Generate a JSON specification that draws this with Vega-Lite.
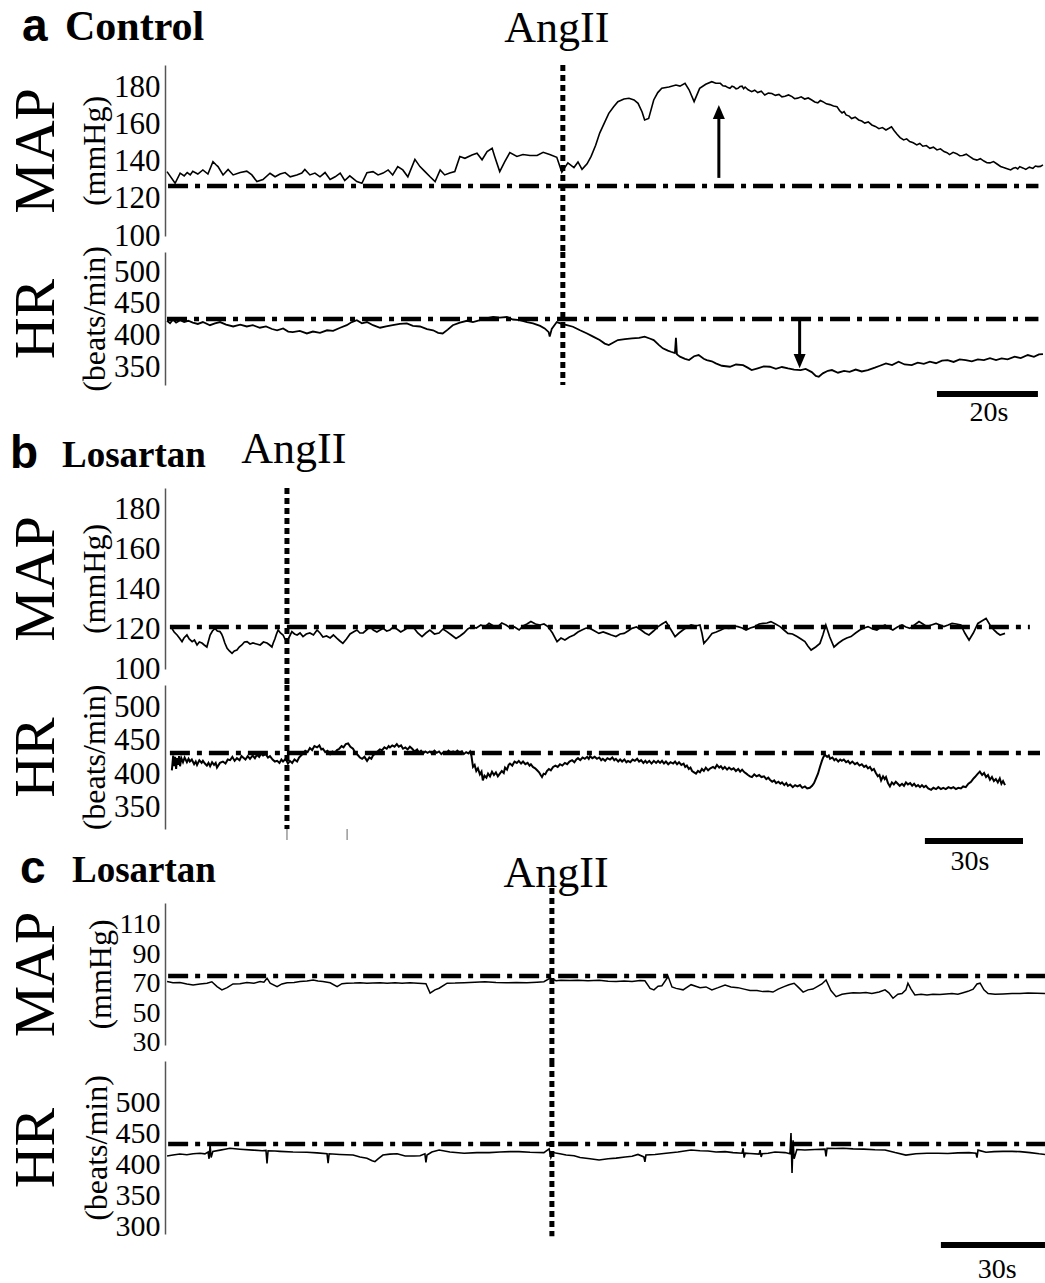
{
"$schema": "https://vega.github.io/schema/vega-lite/v6.json",
"background": "white",
"padding": {"left": 7, "top": 0, "right": 0, "bottom": 2},
"config": {"view": {"stroke": null}, "axis": {"labelFont": "Liberation Serif", "titleFont": "Liberation Serif", "labelColor": "black", "titleColor": "black", "titleFontWeight": "normal", "grid": false}},
"spacing": 16,
"bounds": "flush",
"datasets": {
"aMAP": [{"t":0.4,"v":134.8},{"t":2.0,"v":128.5},{"t":3.0,"v":134},{"t":3.8,"v":132.5},{"t":4.4,"v":134.3},{"t":5.0,"v":133},{"t":5.5,"v":135},{"t":6.5,"v":133.5},{"t":7.5,"v":135.7},{"t":8.5,"v":133.5},{"t":9.5,"v":140.2},{"t":10.1,"v":138.5},{"t":10.5,"v":137.5},{"t":11.5,"v":133},{"t":12.5,"v":136},{"t":13.5,"v":133},{"t":14.9,"v":134.3},{"t":16.2,"v":135},{"t":17.2,"v":133},{"t":18.2,"v":129.4},{"t":19.4,"v":130.5},{"t":20.8,"v":133.9},{"t":21.8,"v":132},{"t":22.8,"v":133.5},{"t":23.8,"v":134.3},{"t":24.8,"v":132},{"t":26.1,"v":133},{"t":27.1,"v":134},{"t":27.7,"v":136},{"t":28.7,"v":133},{"t":29.7,"v":134},{"t":30.7,"v":132},{"t":31.7,"v":134.3},{"t":32.7,"v":130.6},{"t":33.7,"v":132},{"t":34.7,"v":134},{"t":35.6,"v":130},{"t":36.6,"v":132.5},{"t":38.0,"v":129.4},{"t":39.0,"v":128.5},{"t":40.0,"v":134.2},{"t":41.2,"v":134.8},{"t":42.2,"v":133},{"t":43.2,"v":134},{"t":44.2,"v":135.7},{"t":45.1,"v":133},{"t":46.1,"v":137.5},{"t":47.1,"v":135.7},{"t":48.1,"v":132},{"t":49.5,"v":141.4},{"t":50.5,"v":137.5},{"t":51.5,"v":134.8},{"t":52.5,"v":132},{"t":53.5,"v":129.4},{"t":54.5,"v":135.7},{"t":55.4,"v":133},{"t":56.4,"v":134},{"t":57.4,"v":134.8},{"t":58.4,"v":142.9},{"t":59.4,"v":142},{"t":60.8,"v":143.8},{"t":61.8,"v":144.7},{"t":62.8,"v":141.2},{"t":63.8,"v":145.6},{"t":64.8,"v":147.4},{"t":65.3,"v":143},{"t":66.3,"v":134.8},{"t":67.3,"v":140.2},{"t":68.3,"v":145.1},{"t":69.7,"v":143},{"t":70.9,"v":144},{"t":72.3,"v":143.5},{"t":73.7,"v":143.5},{"t":74.9,"v":145.2},{"t":76.2,"v":144},{"t":77.6,"v":142.5},{"t":78.6,"v":134.5},{"t":79.8,"v":139.5},{"t":81.0,"v":137},{"t":81.8,"v":140},{"t":82.6,"v":136},{"t":83.6,"v":139},{"t":84.4,"v":143},{"t":85.3,"v":149},{"t":86.1,"v":155.6},{"t":87.1,"v":161.5},{"t":87.9,"v":166.3},{"t":88.9,"v":170},{"t":89.7,"v":172.6},{"t":90.9,"v":174},{"t":91.9,"v":174.4},{"t":92.9,"v":173.5},{"t":93.7,"v":171.7},{"t":94.5,"v":167},{"t":95.0,"v":162.7},{"t":95.8,"v":163.5},{"t":96.8,"v":173.5},{"t":97.6,"v":177.5},{"t":98.4,"v":179.8},{"t":99.8,"v":180.5},{"t":101.2,"v":181.6},{"t":102.0,"v":181},{"t":103.0,"v":182.5},{"t":103.8,"v":179},{"t":104.8,"v":172.6},{"t":105.9,"v":179.8},{"t":107.1,"v":182},{"t":108.3,"v":183.4},{"t":109.1,"v":182.5},{"t":110.0,"v":182.5},{"t":110.5,"v":181.2},{"t":111.0,"v":181},{"t":111.5,"v":180.2},{"t":111.9,"v":179.8},{"t":112.3,"v":181},{"t":112.7,"v":180.5},{"t":113.1,"v":179.5},{"t":113.5,"v":179.8},{"t":113.9,"v":180.8},{"t":114.3,"v":181},{"t":114.6,"v":179.6},{"t":114.9,"v":180.5},{"t":115.5,"v":179},{"t":116.2,"v":178},{"t":116.8,"v":178.8},{"t":117.4,"v":177.5},{"t":118.1,"v":178.2},{"t":118.8,"v":176.2},{"t":119.5,"v":177.2},{"t":120.2,"v":177},{"t":120.9,"v":176},{"t":121.6,"v":176.5},{"t":122.2,"v":175.2},{"t":122.8,"v":175.5},{"t":123.5,"v":176.2},{"t":124.2,"v":175.3},{"t":124.7,"v":174.2},{"t":125.3,"v":174.5},{"t":126.0,"v":175.2},{"t":126.7,"v":174},{"t":127.4,"v":174.6},{"t":128.1,"v":173.5},{"t":128.7,"v":172.4},{"t":129.3,"v":172},{"t":129.8,"v":173.2},{"t":130.3,"v":172.6},{"t":131.0,"v":171.4},{"t":131.7,"v":171},{"t":132.4,"v":170.2},{"t":133.1,"v":169.9},{"t":133.6,"v":167.8},{"t":134.1,"v":166.5},{"t":134.5,"v":167.2},{"t":134.9,"v":165.4},{"t":135.5,"v":164.8},{"t":136.0,"v":163.5},{"t":136.7,"v":164.2},{"t":137.4,"v":162.7},{"t":138.0,"v":162.1},{"t":138.6,"v":161},{"t":139.3,"v":161.6},{"t":140.0,"v":160},{"t":140.7,"v":159.2},{"t":141.4,"v":158},{"t":142.1,"v":158.6},{"t":142.8,"v":157.3},{"t":143.4,"v":158.2},{"t":143.9,"v":159},{"t":144.4,"v":157},{"t":145.0,"v":155},{"t":145.6,"v":153.2},{"t":146.3,"v":151.9},{"t":146.9,"v":152.5},{"t":147.5,"v":151},{"t":148.2,"v":150.4},{"t":148.9,"v":149.2},{"t":149.5,"v":150},{"t":150.1,"v":148.5},{"t":150.8,"v":148.9},{"t":151.5,"v":147.4},{"t":152.2,"v":148},{"t":152.9,"v":146.5},{"t":153.6,"v":147.1},{"t":154.3,"v":145.6},{"t":154.9,"v":145},{"t":155.4,"v":144},{"t":156.1,"v":145.2},{"t":156.8,"v":144.5},{"t":157.4,"v":143.4},{"t":158.0,"v":143.5},{"t":158.7,"v":144.2},{"t":159.4,"v":142.9},{"t":160.1,"v":141.6},{"t":160.8,"v":141},{"t":161.5,"v":141.8},{"t":162.2,"v":140.5},{"t":162.8,"v":139.6},{"t":163.4,"v":139.5},{"t":164.1,"v":140.2},{"t":164.8,"v":138.9},{"t":165.5,"v":137.6},{"t":166.1,"v":137},{"t":166.8,"v":136.4},{"t":167.5,"v":135.7},{"t":168.0,"v":136.6},{"t":168.5,"v":137},{"t":168.9,"v":136.2},{"t":169.3,"v":137.5},{"t":169.9,"v":136.8},{"t":170.5,"v":136},{"t":171.2,"v":137.2},{"t":171.9,"v":136.5},{"t":172.4,"v":137.8},{"t":172.9,"v":137.5},{"t":173.4,"v":137.6},{"t":173.9,"v":138.4}],
"aHR": [{"t":0.4,"v":423},{"t":1.0,"v":419},{"t":1.6,"v":425},{"t":2.2,"v":420},{"t":3.0,"v":424},{"t":3.8,"v":421},{"t":4.6,"v":423},{"t":5.5,"v":420},{"t":6.5,"v":418},{"t":7.5,"v":421},{"t":8.9,"v":416},{"t":9.9,"v":419},{"t":10.9,"v":421},{"t":12.1,"v":417},{"t":13.5,"v":414},{"t":14.9,"v":417},{"t":16.2,"v":414},{"t":17.4,"v":416},{"t":18.8,"v":412},{"t":20.0,"v":414},{"t":21.2,"v":410},{"t":22.2,"v":408},{"t":23.4,"v":411},{"t":24.4,"v":406},{"t":25.3,"v":405},{"t":26.7,"v":407},{"t":28.1,"v":403},{"t":29.3,"v":406},{"t":30.7,"v":404},{"t":32.1,"v":408},{"t":33.3,"v":407},{"t":34.7,"v":412},{"t":36.0,"v":416},{"t":37.0,"v":421},{"t":38.0,"v":424},{"t":39.0,"v":419},{"t":40.0,"v":421},{"t":41.2,"v":416},{"t":42.6,"v":412},{"t":43.8,"v":414},{"t":45.1,"v":416},{"t":46.5,"v":418},{"t":47.9,"v":419},{"t":49.1,"v":415},{"t":50.5,"v":414},{"t":51.9,"v":410},{"t":53.1,"v":408},{"t":54.1,"v":404},{"t":55.0,"v":403},{"t":56.0,"v":409},{"t":57.0,"v":416},{"t":58.4,"v":420},{"t":59.8,"v":423},{"t":61.0,"v":421},{"t":62.4,"v":424},{"t":63.8,"v":427},{"t":65.0,"v":429},{"t":66.3,"v":428},{"t":67.7,"v":429},{"t":68.9,"v":425},{"t":70.3,"v":424},{"t":71.7,"v":421},{"t":72.9,"v":419},{"t":74.3,"v":415},{"t":75.2,"v":411},{"t":76.0,"v":405},{"t":76.2,"v":398},{"t":76.6,"v":410},{"t":77.6,"v":421},{"t":78.6,"v":418},{"t":79.6,"v":416},{"t":80.8,"v":413.6},{"t":82.2,"v":408},{"t":83.6,"v":403},{"t":84.8,"v":398},{"t":86.1,"v":392.6},{"t":87.1,"v":387},{"t":87.9,"v":384.7},{"t":88.9,"v":389},{"t":89.7,"v":392.6},{"t":91.1,"v":394},{"t":92.5,"v":395.2},{"t":93.9,"v":396},{"t":95.0,"v":397.9},{"t":96.0,"v":395},{"t":96.8,"v":392.6},{"t":97.8,"v":385},{"t":98.6,"v":379.5},{"t":99.6,"v":376},{"t":100.2,"v":374.1},{"t":101.0,"v":372},{"t":101.2,"v":396},{"t":101.4,"v":370},{"t":102.0,"v":366.3},{"t":103.0,"v":363},{"t":103.8,"v":361},{"t":104.8,"v":367},{"t":105.7,"v":368.9},{"t":106.7,"v":363},{"t":107.3,"v":361},{"t":108.3,"v":359},{"t":109.1,"v":355.7},{"t":110.3,"v":352},{"t":111.9,"v":350.4},{"t":113.1,"v":354},{"t":114.5,"v":353},{"t":115.4,"v":349},{"t":116.2,"v":345.2},{"t":117.4,"v":348},{"t":118.6,"v":351},{"t":119.8,"v":350.4},{"t":121.0,"v":347},{"t":122.2,"v":350},{"t":123.4,"v":347.8},{"t":124.6,"v":346},{"t":125.9,"v":345.2},{"t":126.9,"v":347},{"t":128.1,"v":342},{"t":128.9,"v":336},{"t":129.5,"v":334.6},{"t":130.3,"v":340},{"t":131.3,"v":344},{"t":132.1,"v":345.2},{"t":133.3,"v":341},{"t":134.5,"v":344},{"t":135.6,"v":342.5},{"t":136.8,"v":346},{"t":138.0,"v":343},{"t":139.2,"v":345.2},{"t":140.6,"v":349},{"t":141.6,"v":352},{"t":142.8,"v":355.7},{"t":144.0,"v":353},{"t":145.3,"v":358.4},{"t":146.5,"v":354},{"t":147.9,"v":353},{"t":149.1,"v":357},{"t":150.3,"v":355},{"t":151.5,"v":358.4},{"t":152.7,"v":356},{"t":153.9,"v":360},{"t":155.0,"v":361},{"t":156.2,"v":358},{"t":157.4,"v":362},{"t":158.6,"v":361},{"t":159.8,"v":359},{"t":161.0,"v":362},{"t":162.2,"v":361},{"t":163.4,"v":364},{"t":164.6,"v":361},{"t":165.7,"v":363.7},{"t":166.9,"v":362},{"t":168.3,"v":366.3},{"t":169.5,"v":364},{"t":170.9,"v":368.9},{"t":172.1,"v":366},{"t":173.1,"v":370},{"t":173.9,"v":370.5}],
"bMAP": [{"t":2.1,"v":120.3},{"t":2.8,"v":118.5},{"t":3.7,"v":117},{"t":4.4,"v":115.5},{"t":5.2,"v":113.7},{"t":5.8,"v":115.5},{"t":6.7,"v":117},{"t":7.4,"v":115},{"t":8.3,"v":113.7},{"t":9.0,"v":114.5},{"t":9.8,"v":112},{"t":10.5,"v":113.5},{"t":11.3,"v":113},{"t":12.0,"v":112},{"t":12.8,"v":111},{"t":13.3,"v":114},{"t":13.8,"v":117},{"t":14.5,"v":119},{"t":15.3,"v":120.3},{"t":16.0,"v":119},{"t":16.8,"v":118.7},{"t":17.3,"v":117.5},{"t":17.7,"v":116},{"t":18.3,"v":113},{"t":19.0,"v":110.3},{"t":19.7,"v":109},{"t":20.5,"v":107.8},{"t":21.2,"v":109},{"t":22.0,"v":109.5},{"t":22.7,"v":111},{"t":23.5,"v":112},{"t":24.3,"v":113.5},{"t":25.1,"v":113.7},{"t":26.0,"v":112.5},{"t":26.9,"v":113},{"t":28.0,"v":112.5},{"t":29.1,"v":112},{"t":30.1,"v":113.5},{"t":31.2,"v":113},{"t":32.0,"v":112},{"t":32.7,"v":111},{"t":33.1,"v":113},{"t":33.6,"v":115},{"t":34.1,"v":117.5},{"t":34.6,"v":119.5},{"t":35.3,"v":118},{"t":36.1,"v":117},{"t":36.7,"v":115},{"t":37.3,"v":113.7},{"t":38.0,"v":116},{"t":38.8,"v":118.7},{"t":39.6,"v":117.5},{"t":40.4,"v":117},{"t":41.3,"v":118},{"t":42.2,"v":116.2},{"t":43.2,"v":117.5},{"t":44.3,"v":118},{"t":45.4,"v":117},{"t":46.5,"v":119.5},{"t":47.4,"v":118},{"t":48.3,"v":116},{"t":49.4,"v":116.5},{"t":50.5,"v":115.5},{"t":51.5,"v":117},{"t":52.6,"v":115.3},{"t":53.5,"v":114},{"t":54.4,"v":112.8},{"t":55.5,"v":115},{"t":56.6,"v":117.5},{"t":57.6,"v":118.5},{"t":58.7,"v":119.5},{"t":59.6,"v":118},{"t":60.6,"v":118},{"t":61.6,"v":119.5},{"t":62.7,"v":121.2},{"t":63.7,"v":119.5},{"t":64.8,"v":118.5},{"t":65.8,"v":119.5},{"t":66.7,"v":120.3},{"t":67.8,"v":119},{"t":68.8,"v":119.5},{"t":69.8,"v":121},{"t":70.9,"v":120},{"t":72.1,"v":118.5},{"t":73.4,"v":119.7},{"t":74.8,"v":121.5},{"t":76.1,"v":120.5},{"t":77.3,"v":118},{"t":78.6,"v":116.2},{"t":79.8,"v":118},{"t":81.0,"v":119.5},{"t":82.4,"v":117.5},{"t":83.8,"v":118},{"t":85.0,"v":120},{"t":86.2,"v":118.7},{"t":87.6,"v":117},{"t":89.0,"v":115.3},{"t":90.2,"v":116.5},{"t":91.4,"v":118},{"t":92.6,"v":120},{"t":93.9,"v":121.2},{"t":95.2,"v":120.5},{"t":96.6,"v":122},{"t":97.8,"v":121},{"t":99.1,"v":122.8},{"t":100.5,"v":121.5},{"t":101.8,"v":121.2},{"t":103.0,"v":123},{"t":104.3,"v":122},{"t":105.6,"v":120.5},{"t":106.9,"v":121},{"t":108.3,"v":119.5},{"t":109.5,"v":121.5},{"t":110.7,"v":122.5},{"t":111.9,"v":123.7},{"t":113.3,"v":122.5},{"t":114.7,"v":122},{"t":115.9,"v":122.5},{"t":117.1,"v":121.2},{"t":118.5,"v":118},{"t":119.9,"v":113.7},{"t":121.1,"v":115.5},{"t":122.3,"v":114.5},{"t":123.7,"v":116},{"t":125.1,"v":117},{"t":126.3,"v":118.5},{"t":127.5,"v":119.5},{"t":128.8,"v":120.5},{"t":130.0,"v":120.3},{"t":131.4,"v":119},{"t":132.7,"v":117.8},{"t":134.0,"v":118.5},{"t":135.2,"v":117.8},{"t":136.5,"v":117},{"t":137.9,"v":116.2},{"t":139.2,"v":117.5},{"t":140.4,"v":117.8},{"t":141.6,"v":119},{"t":142.8,"v":120.3},{"t":144.2,"v":121},{"t":145.6,"v":119.5},{"t":146.8,"v":118},{"t":148.0,"v":117},{"t":149.4,"v":119},{"t":150.8,"v":121.2},{"t":152.0,"v":122.5},{"t":153.2,"v":123.7},{"t":154.6,"v":120},{"t":156.0,"v":116.2},{"t":157.2,"v":118},{"t":158.4,"v":119.5},{"t":159.7,"v":121},{"t":160.9,"v":122},{"t":162.3,"v":121.5},{"t":163.6,"v":122},{"t":164.2,"v":118},{"t":164.8,"v":112.8},{"t":166.0,"v":115},{"t":167.3,"v":117.8},{"t":168.6,"v":118.5},{"t":170.0,"v":119.5},{"t":171.2,"v":120.5},{"t":172.5,"v":120.3},{"t":173.9,"v":121.5},{"t":175.2,"v":121.2},{"t":176.5,"v":120.5},{"t":177.7,"v":119.5},{"t":179.0,"v":120.5},{"t":180.4,"v":121.2},{"t":181.7,"v":122.5},{"t":182.9,"v":122.8},{"t":184.1,"v":123},{"t":185.3,"v":123.7},{"t":186.7,"v":122.5},{"t":188.1,"v":121.2},{"t":189.3,"v":119.5},{"t":190.5,"v":117.8},{"t":191.9,"v":117.5},{"t":193.3,"v":116.2},{"t":194.5,"v":115},{"t":195.7,"v":113.7},{"t":196.6,"v":111.5},{"t":197.6,"v":109.5},{"t":199.0,"v":111},{"t":200.3,"v":112.8},{"t":201.2,"v":117},{"t":202.1,"v":122},{"t":203.3,"v":116},{"t":204.6,"v":111},{"t":206.0,"v":113},{"t":207.3,"v":114.5},{"t":208.5,"v":115.5},{"t":209.8,"v":116.2},{"t":211.2,"v":118},{"t":212.5,"v":119.5},{"t":213.8,"v":120.5},{"t":215.0,"v":121.2},{"t":216.4,"v":120},{"t":217.7,"v":119.5},{"t":219.0,"v":121},{"t":220.2,"v":122},{"t":221.4,"v":120.5},{"t":222.6,"v":119.5},{"t":224.0,"v":121},{"t":225.4,"v":122},{"t":226.6,"v":121},{"t":227.8,"v":120.3},{"t":229.2,"v":122},{"t":230.6,"v":123.7},{"t":231.8,"v":122.5},{"t":233.0,"v":121.2},{"t":234.4,"v":122},{"t":235.8,"v":122.8},{"t":237.0,"v":122},{"t":238.2,"v":121.2},{"t":239.5,"v":122},{"t":240.7,"v":122.8},{"t":242.0,"v":122.5},{"t":243.4,"v":122},{"t":244.6,"v":118},{"t":245.9,"v":114.5},{"t":247.2,"v":118},{"t":248.6,"v":122.8},{"t":249.8,"v":124},{"t":251.1,"v":125.3},{"t":252.3,"v":122},{"t":253.5,"v":119.5},{"t":254.5,"v":118},{"t":255.4,"v":117},{"t":256.9,"v":117.8}],
"bHR": [{"t":2.1,"v":406},{"t":2.5,"v":428},{"t":2.8,"v":412},{"t":3.1,"v":426},{"t":3.4,"v":408},{"t":3.7,"v":424},{"t":4.0,"v":414},{"t":4.3,"v":427},{"t":4.6,"v":412},{"t":5.0,"v":424},{"t":5.5,"v":418},{"t":6.0,"v":425},{"t":6.7,"v":418},{"t":7.2,"v":423},{"t":7.6,"v":419},{"t":8.2,"v":422},{"t":8.9,"v":415},{"t":9.4,"v":419},{"t":9.8,"v":414},{"t":10.5,"v":421},{"t":11.2,"v":417},{"t":11.6,"v":420},{"t":12.2,"v":416},{"t":12.8,"v":413},{"t":13.3,"v":417},{"t":13.8,"v":412},{"t":14.4,"v":418},{"t":15.0,"v":414},{"t":15.5,"v":417},{"t":15.9,"v":410},{"t":16.8,"v":417},{"t":17.7,"v":419},{"t":18.5,"v":416},{"t":19.2,"v":422},{"t":19.9,"v":421},{"t":20.6,"v":426},{"t":21.3,"v":420},{"t":22.0,"v":424},{"t":22.8,"v":421},{"t":23.4,"v":427},{"t":23.9,"v":425},{"t":24.6,"v":422},{"t":25.3,"v":427},{"t":26.0,"v":423},{"t":26.8,"v":428},{"t":27.5,"v":424},{"t":28.1,"v":429},{"t":28.8,"v":426},{"t":29.4,"v":431},{"t":30.0,"v":428},{"t":30.8,"v":430},{"t":31.5,"v":425},{"t":32.1,"v":427},{"t":32.9,"v":422},{"t":33.6,"v":419},{"t":34.3,"v":420},{"t":35.0,"v":417},{"t":35.6,"v":422},{"t":36.1,"v":419},{"t":36.9,"v":423},{"t":37.6,"v":416},{"t":38.2,"v":420},{"t":38.9,"v":417},{"t":39.6,"v":422},{"t":40.4,"v":419},{"t":41.0,"v":425},{"t":41.6,"v":428},{"t":42.2,"v":431},{"t":42.9,"v":435},{"t":43.6,"v":433},{"t":44.3,"v":439},{"t":45.0,"v":436},{"t":45.7,"v":442},{"t":46.5,"v":440},{"t":47.2,"v":443},{"t":47.8,"v":437},{"t":48.3,"v":438},{"t":49.0,"v":433},{"t":49.7,"v":435},{"t":50.5,"v":430},{"t":51.2,"v":434},{"t":51.9,"v":432},{"t":52.6,"v":436},{"t":53.3,"v":438},{"t":54.0,"v":442},{"t":54.6,"v":440},{"t":55.3,"v":445},{"t":56.0,"v":446},{"t":56.7,"v":441},{"t":57.5,"v":438},{"t":58.2,"v":432},{"t":58.9,"v":429},{"t":59.6,"v":425},{"t":60.3,"v":423},{"t":61.0,"v":426},{"t":61.8,"v":420},{"t":62.5,"v":425},{"t":63.1,"v":423},{"t":63.6,"v":428},{"t":64.3,"v":431},{"t":65.0,"v":434},{"t":65.7,"v":437},{"t":66.4,"v":436},{"t":67.1,"v":440},{"t":67.8,"v":438},{"t":68.4,"v":442},{"t":68.8,"v":440},{"t":69.5,"v":443},{"t":70.2,"v":441},{"t":70.9,"v":445},{"t":71.5,"v":441},{"t":72.2,"v":443},{"t":72.8,"v":438},{"t":73.5,"v":440},{"t":74.2,"v":437},{"t":74.9,"v":441},{"t":75.6,"v":438},{"t":76.3,"v":434},{"t":77.1,"v":437},{"t":77.7,"v":432},{"t":78.3,"v":435},{"t":78.9,"v":431},{"t":79.6,"v":434},{"t":80.3,"v":432},{"t":81.0,"v":434},{"t":81.7,"v":431},{"t":82.4,"v":435},{"t":83.1,"v":432},{"t":83.8,"v":434},{"t":84.5,"v":430},{"t":85.2,"v":433},{"t":86.0,"v":431},{"t":86.7,"v":435},{"t":87.4,"v":432},{"t":88.1,"v":434},{"t":88.7,"v":431},{"t":89.4,"v":435},{"t":90.1,"v":432},{"t":90.8,"v":434},{"t":91.4,"v":430},{"t":92.1,"v":433},{"t":92.8,"v":431},{"t":93.3,"v":434},{"t":93.7,"v":428},{"t":94.2,"v":411},{"t":94.7,"v":414},{"t":95.2,"v":405},{"t":95.7,"v":409},{"t":96.3,"v":400},{"t":96.8,"v":404},{"t":97.2,"v":391},{"t":97.7,"v":398},{"t":98.3,"v":395},{"t":98.8,"v":401},{"t":99.4,"v":397},{"t":100.0,"v":404},{"t":100.6,"v":399},{"t":101.2,"v":403},{"t":101.8,"v":397},{"t":102.4,"v":401},{"t":103.0,"v":405},{"t":103.6,"v":402},{"t":104.0,"v":410},{"t":104.6,"v":407},{"t":105.1,"v":414},{"t":105.5,"v":416},{"t":106.2,"v":413},{"t":106.9,"v":419},{"t":107.6,"v":417},{"t":108.2,"v":420},{"t":108.9,"v":416},{"t":109.5,"v":419},{"t":110.2,"v":415},{"t":110.9,"v":417},{"t":111.5,"v":413},{"t":111.9,"v":415},{"t":112.5,"v":411},{"t":113.2,"v":409},{"t":113.8,"v":406},{"t":114.4,"v":403},{"t":114.9,"v":399},{"t":115.3,"v":396},{"t":115.8,"v":401},{"t":116.3,"v":400},{"t":116.8,"v":405},{"t":117.4,"v":408},{"t":118.0,"v":406},{"t":118.7,"v":411},{"t":119.4,"v":413},{"t":120.1,"v":411},{"t":120.8,"v":415},{"t":121.5,"v":413},{"t":122.3,"v":417},{"t":123.0,"v":415},{"t":123.7,"v":419},{"t":124.5,"v":421},{"t":125.2,"v":418},{"t":125.8,"v":422},{"t":126.3,"v":424},{"t":127.0,"v":421},{"t":127.7,"v":425},{"t":128.4,"v":423},{"t":129.1,"v":426},{"t":129.6,"v":423},{"t":130.0,"v":427},{"t":130.7,"v":424},{"t":131.4,"v":426},{"t":132.1,"v":423},{"t":132.8,"v":425},{"t":133.4,"v":421},{"t":133.9,"v":423},{"t":134.6,"v":420},{"t":135.3,"v":424},{"t":136.1,"v":422},{"t":136.8,"v":425},{"t":137.4,"v":421},{"t":137.9,"v":423},{"t":138.6,"v":419},{"t":139.2,"v":422},{"t":139.8,"v":419},{"t":140.5,"v":422},{"t":141.1,"v":418},{"t":141.6,"v":420},{"t":142.3,"v":418},{"t":143.0,"v":422},{"t":143.7,"v":420},{"t":144.4,"v":423},{"t":145.0,"v":419},{"t":145.6,"v":421},{"t":146.3,"v":417},{"t":146.9,"v":420},{"t":147.4,"v":417},{"t":148.1,"v":420},{"t":148.8,"v":416},{"t":149.5,"v":420},{"t":150.2,"v":417},{"t":150.8,"v":420},{"t":151.4,"v":417},{"t":152.0,"v":420},{"t":152.6,"v":416},{"t":153.2,"v":419},{"t":153.9,"v":415},{"t":154.6,"v":418},{"t":155.4,"v":416},{"t":156.0,"v":419},{"t":156.6,"v":415},{"t":157.2,"v":418},{"t":157.9,"v":414},{"t":158.6,"v":416},{"t":159.1,"v":411},{"t":159.6,"v":413},{"t":160.2,"v":408},{"t":160.7,"v":410},{"t":161.2,"v":405},{"t":161.8,"v":403},{"t":162.4,"v":401},{"t":163.0,"v":405},{"t":163.6,"v":403},{"t":164.2,"v":408},{"t":164.8,"v":405},{"t":165.4,"v":410},{"t":166.1,"v":406},{"t":166.8,"v":409},{"t":167.6,"v":411},{"t":168.2,"v":409},{"t":168.8,"v":414},{"t":169.5,"v":410},{"t":170.0,"v":412},{"t":170.6,"v":408},{"t":171.2,"v":411},{"t":171.9,"v":407},{"t":172.5,"v":410},{"t":173.2,"v":407},{"t":173.9,"v":409},{"t":174.6,"v":405},{"t":175.3,"v":408},{"t":175.9,"v":404},{"t":176.5,"v":407},{"t":177.2,"v":403},{"t":177.8,"v":401},{"t":178.3,"v":399},{"t":178.9,"v":397},{"t":179.5,"v":396},{"t":180.2,"v":400},{"t":180.9,"v":397},{"t":181.7,"v":399},{"t":182.4,"v":396},{"t":183.2,"v":397},{"t":183.9,"v":393},{"t":184.5,"v":395},{"t":185.0,"v":392},{"t":185.7,"v":389},{"t":186.3,"v":391},{"t":186.9,"v":387},{"t":187.6,"v":389},{"t":188.2,"v":386},{"t":188.7,"v":388},{"t":189.4,"v":384},{"t":190.0,"v":387},{"t":190.5,"v":383},{"t":191.2,"v":385},{"t":192.0,"v":381},{"t":192.7,"v":384},{"t":193.4,"v":382},{"t":194.2,"v":384},{"t":194.9,"v":380},{"t":195.7,"v":382},{"t":196.4,"v":379},{"t":197.2,"v":380},{"t":197.9,"v":383},{"t":198.5,"v":387},{"t":199.1,"v":394},{"t":199.7,"v":401},{"t":200.3,"v":411},{"t":200.9,"v":420},{"t":201.3,"v":425},{"t":201.8,"v":429},{"t":202.5,"v":426},{"t":203.0,"v":428},{"t":203.4,"v":423},{"t":204.1,"v":425},{"t":204.7,"v":421},{"t":205.2,"v":423},{"t":205.9,"v":419},{"t":206.5,"v":422},{"t":207.0,"v":420},{"t":207.6,"v":422},{"t":208.3,"v":418},{"t":208.9,"v":420},{"t":209.5,"v":416},{"t":210.2,"v":419},{"t":211.0,"v":415},{"t":211.7,"v":417},{"t":212.4,"v":413},{"t":213.1,"v":415},{"t":213.8,"v":411},{"t":214.4,"v":413},{"t":215.0,"v":409},{"t":215.6,"v":411},{"t":216.2,"v":406},{"t":216.8,"v":408},{"t":217.4,"v":402},{"t":218.0,"v":397},{"t":218.5,"v":399},{"t":219.0,"v":391},{"t":219.6,"v":397},{"t":220.1,"v":393},{"t":220.5,"v":396},{"t":221.1,"v":387},{"t":221.7,"v":382},{"t":222.3,"v":388},{"t":222.9,"v":385},{"t":223.5,"v":389},{"t":224.1,"v":386},{"t":224.7,"v":383},{"t":225.4,"v":386},{"t":226.0,"v":383},{"t":226.6,"v":388},{"t":227.2,"v":385},{"t":227.9,"v":387},{"t":228.5,"v":383},{"t":229.1,"v":386},{"t":229.7,"v":382},{"t":230.3,"v":384},{"t":230.9,"v":381},{"t":231.5,"v":384},{"t":232.1,"v":381},{"t":232.7,"v":383},{"t":233.4,"v":379},{"t":234.3,"v":377},{"t":235.0,"v":380},{"t":235.8,"v":378},{"t":236.5,"v":381},{"t":237.3,"v":378},{"t":238.0,"v":380},{"t":238.8,"v":378},{"t":239.6,"v":381},{"t":240.4,"v":379},{"t":241.1,"v":381},{"t":241.9,"v":378},{"t":242.6,"v":380},{"t":243.4,"v":379},{"t":244.1,"v":382},{"t":244.9,"v":381},{"t":245.7,"v":386},{"t":246.5,"v":389},{"t":247.1,"v":393},{"t":247.7,"v":396},{"t":248.4,"v":400},{"t":249.2,"v":404},{"t":249.9,"v":399},{"t":250.5,"v":402},{"t":251.1,"v":396},{"t":251.7,"v":399},{"t":252.3,"v":392},{"t":252.9,"v":396},{"t":253.5,"v":390},{"t":254.1,"v":393},{"t":254.7,"v":388},{"t":255.3,"v":394},{"t":255.8,"v":386},{"t":256.3,"v":390},{"t":256.9,"v":384}],
"cMAP": [{"t":0.6,"v":71.6},{"t":2.3,"v":70.8},{"t":4.3,"v":70.9},{"t":6.3,"v":70},{"t":8.1,"v":69.3},{"t":10.1,"v":70},{"t":12.1,"v":70.5},{"t":13.5,"v":71.5},{"t":15.0,"v":68.2},{"t":16.4,"v":66},{"t":17.9,"v":67.5},{"t":19.6,"v":70},{"t":21.6,"v":70.2},{"t":23.6,"v":70.9},{"t":25.6,"v":70.5},{"t":27.4,"v":71.6},{"t":28.5,"v":71.2},{"t":29.4,"v":73.9},{"t":30.3,"v":70.5},{"t":32.3,"v":68.2},{"t":33.7,"v":70},{"t":35.2,"v":70.8},{"t":37.2,"v":71},{"t":38.9,"v":71.6},{"t":40.9,"v":72},{"t":42.7,"v":72.7},{"t":44.1,"v":72},{"t":45.5,"v":71.6},{"t":47.6,"v":70.8},{"t":49.6,"v":68.2},{"t":51.0,"v":70.2},{"t":52.4,"v":70.5},{"t":54.5,"v":70.6},{"t":56.2,"v":70.8},{"t":58.2,"v":70.5},{"t":59.9,"v":70.6},{"t":62.0,"v":70.8},{"t":64.0,"v":70.5},{"t":66.3,"v":70.8},{"t":68.3,"v":70.5},{"t":70.6,"v":70.8},{"t":72.9,"v":70.5},{"t":75.2,"v":70.2},{"t":76.4,"v":63.8},{"t":77.8,"v":66},{"t":79.0,"v":67.1},{"t":81.3,"v":70.5},{"t":83.6,"v":70.6},{"t":86.2,"v":70.9},{"t":89.3,"v":71.2},{"t":92.2,"v":71.5},{"t":95.4,"v":71},{"t":98.3,"v":70.8},{"t":101.2,"v":71},{"t":104.3,"v":70.8},{"t":107.2,"v":71.2},{"t":109.2,"v":71.5},{"t":111.0,"v":73.9},{"t":112.7,"v":72.2},{"t":114.1,"v":72.5},{"t":116.7,"v":72.3},{"t":119.0,"v":72.5},{"t":121.9,"v":72.2},{"t":125.1,"v":72.5},{"t":127.7,"v":71.8},{"t":130.0,"v":71.6},{"t":132.3,"v":72},{"t":134.6,"v":71.6},{"t":136.9,"v":72.3},{"t":138.3,"v":72.2},{"t":139.8,"v":67},{"t":140.9,"v":66},{"t":142.1,"v":68.5},{"t":143.2,"v":68.8},{"t":145.0,"v":75},{"t":146.1,"v":68},{"t":147.3,"v":67},{"t":149.3,"v":66},{"t":151.6,"v":69.5},{"t":154.2,"v":67.5},{"t":155.9,"v":68},{"t":157.6,"v":66},{"t":159.4,"v":67.5},{"t":161.4,"v":69.3},{"t":163.1,"v":68},{"t":165.1,"v":67.5},{"t":166.9,"v":66.5},{"t":168.6,"v":65.5},{"t":170.6,"v":65.5},{"t":172.3,"v":64.8},{"t":173.8,"v":65},{"t":175.2,"v":64.5},{"t":176.7,"v":66.5},{"t":178.4,"v":68.2},{"t":179.8,"v":69.5},{"t":181.3,"v":70.5},{"t":182.4,"v":68},{"t":183.9,"v":64.5},{"t":185.3,"v":66},{"t":186.7,"v":66.5},{"t":188.2,"v":68.5},{"t":189.3,"v":70},{"t":190.5,"v":72.7},{"t":191.9,"v":65.5},{"t":193.4,"v":61.4},{"t":195.1,"v":63},{"t":196.5,"v":63.5},{"t":198.3,"v":64},{"t":200.3,"v":63.8},{"t":202.0,"v":64.2},{"t":203.7,"v":63.5},{"t":205.8,"v":64.5},{"t":207.5,"v":66},{"t":208.6,"v":64},{"t":209.8,"v":60.3},{"t":211.2,"v":63},{"t":212.4,"v":63.5},{"t":213.5,"v":66},{"t":214.1,"v":70.5},{"t":215.0,"v":66.5},{"t":216.1,"v":62.5},{"t":217.9,"v":63},{"t":219.6,"v":62.5},{"t":221.3,"v":63},{"t":223.3,"v":62.8},{"t":225.1,"v":63.2},{"t":226.8,"v":63.5},{"t":228.5,"v":63},{"t":230.0,"v":64},{"t":231.4,"v":65},{"t":232.9,"v":66.5},{"t":234.0,"v":70},{"t":234.9,"v":70.5},{"t":236.0,"v":66},{"t":237.2,"v":63.5},{"t":239.2,"v":63},{"t":241.5,"v":63.2},{"t":244.1,"v":63.5},{"t":246.4,"v":63.6},{"t":248.7,"v":63.8},{"t":251.3,"v":63.7},{"t":253.6,"v":63.5}],
"cHR": [{"t":0.6,"v":414.5},{"t":2.3,"v":416},{"t":4.3,"v":417.7},{"t":6.3,"v":416.5},{"t":8.1,"v":418},{"t":10.1,"v":419},{"t":11.5,"v":418},{"t":12.4,"v":421},{"t":12.7,"v":410},{"t":13.0,"v":432},{"t":13.3,"v":412},{"t":13.8,"v":422},{"t":15.9,"v":424},{"t":17.3,"v":425.5},{"t":18.7,"v":426.9},{"t":21.6,"v":425.5},{"t":25.4,"v":424},{"t":28.0,"v":423},{"t":29.1,"v":423.5},{"t":29.4,"v":402.7},{"t":29.7,"v":423},{"t":31.7,"v":422.5},{"t":33.1,"v":422},{"t":36.9,"v":421},{"t":40.9,"v":420.5},{"t":43.8,"v":419.5},{"t":46.7,"v":418},{"t":47.0,"v":403},{"t":47.3,"v":418},{"t":50.4,"v":417},{"t":54.2,"v":416},{"t":56.2,"v":413},{"t":58.2,"v":410.8},{"t":59.7,"v":407},{"t":60.5,"v":405.4},{"t":61.4,"v":410},{"t":62.8,"v":416},{"t":64.8,"v":417.5},{"t":66.9,"v":418},{"t":69.2,"v":414.5},{"t":71.8,"v":414.5},{"t":73.5,"v":415},{"t":74.9,"v":418},{"t":75.2,"v":404},{"t":75.5,"v":416},{"t":76.9,"v":421},{"t":79.0,"v":424.2},{"t":82.1,"v":421},{"t":86.2,"v":419},{"t":89.9,"v":420},{"t":93.4,"v":420},{"t":96.5,"v":421},{"t":99.4,"v":421.5},{"t":102.0,"v":421.5},{"t":105.2,"v":420.5},{"t":109.2,"v":420},{"t":110.7,"v":426},{"t":111.2,"v":412},{"t":111.8,"v":420},{"t":113.8,"v":418},{"t":115.6,"v":416},{"t":117.9,"v":415},{"t":119.6,"v":412},{"t":122.5,"v":410},{"t":125.1,"v":408},{"t":127.7,"v":410},{"t":130.0,"v":411},{"t":132.6,"v":413},{"t":134.6,"v":414},{"t":136.3,"v":417},{"t":138.0,"v":413},{"t":138.3,"v":405},{"t":138.6,"v":416},{"t":141.2,"v":417},{"t":144.4,"v":419},{"t":147.8,"v":421},{"t":151.6,"v":424.2},{"t":154.2,"v":423},{"t":156.5,"v":422.5},{"t":158.8,"v":421},{"t":161.4,"v":421.5},{"t":163.7,"v":420},{"t":166.3,"v":419},{"t":166.6,"v":427},{"t":166.9,"v":412},{"t":167.2,"v":419},{"t":168.6,"v":418.5},{"t":171.2,"v":417.5},{"t":171.5,"v":424},{"t":171.8,"v":413},{"t":172.1,"v":418},{"t":173.8,"v":419},{"t":175.8,"v":421},{"t":178.7,"v":420},{"t":180.1,"v":418},{"t":180.4,"v":451.6},{"t":180.7,"v":387},{"t":181.0,"v":440},{"t":181.3,"v":410},{"t":182.1,"v":425},{"t":184.4,"v":424.2},{"t":187.3,"v":425},{"t":190.2,"v":425.5},{"t":190.5,"v":414},{"t":190.8,"v":427},{"t":193.1,"v":426.5},{"t":195.4,"v":427},{"t":198.3,"v":426},{"t":201.4,"v":425.5},{"t":204.6,"v":424.5},{"t":207.5,"v":424.2},{"t":210.4,"v":420},{"t":213.5,"v":416},{"t":216.4,"v":418},{"t":219.6,"v":419},{"t":222.8,"v":419},{"t":225.6,"v":418.5},{"t":228.5,"v":419.5},{"t":231.7,"v":420},{"t":233.7,"v":419},{"t":234.0,"v":412},{"t":234.3,"v":424},{"t":236.6,"v":420.5},{"t":238.9,"v":421.5},{"t":241.5,"v":422},{"t":244.1,"v":422},{"t":246.4,"v":421.5},{"t":249.3,"v":420},{"t":251.9,"v":418},{"t":253.6,"v":417}]
},
"vconcat": [
{
 "width": 880, "height": 49,
 "layer": [
  {"data": {"values": [{"t": -28.3, "s": "a"}]}, "mark": {"type": "text", "font": "Liberation Sans", "fontWeight": "bold", "fontSize": 46, "align": "left", "baseline": "alphabetic", "dy": 16, "color": "black"},
   "encoding": {"x": {"field": "t", "type": "quantitative", "scale": {"domain": [0, 174.3], "nice": false, "zero": false}, "axis": null}, "text": {"field": "s"}}},
  {"data": {"values": [{"t": -19.8, "s": "Control"}]}, "mark": {"type": "text", "font": "Liberation Serif", "fontWeight": "bold", "fontSize": 42, "align": "left", "baseline": "alphabetic", "dy": 15, "color": "black"},
   "encoding": {"x": {"field": "t", "type": "quantitative", "axis": null}, "text": {"field": "s"}}},
  {"data": {"values": [{"t": 77.6, "s": "AngII"}]}, "mark": {"type": "text", "font": "Liberation Serif", "fontSize": 44, "align": "center", "baseline": "alphabetic", "dy": 17.5, "color": "black"},
   "encoding": {"x": {"field": "t", "type": "quantitative", "axis": null}, "text": {"field": "s"}}}
 ]
},
{
 "width": 880, "height": 171,
 "resolve": {"axis": {"y": "independent"}},
 "layer": [
  {"data": {"name": "aMAP"}, "mark": {"type": "line", "color": "black", "strokeWidth": 1.6},
   "encoding": {
    "x": {"field": "t", "type": "quantitative", "scale": {"domain": [0, 174.3], "nice": false, "zero": false}, "axis": {"labels": false, "ticks": false, "title": null, "domainColor": "#555", "domainWidth": 1.5}},
    "y": {"field": "v", "type": "quantitative", "scale": {"domain": [100, 192.4], "nice": false, "zero": false}, "axis": {"orient": "left", "values": [100, 120, 140, 160, 180], "title": "(mmHg)", "titleFontSize": 32, "titlePadding": 2, "labelFontSize": 31, "labelPadding": 5, "labelOverlap": false, "ticks": false, "domainColor": "#555", "domainWidth": 1.5}}}},
  {"data": {"values": [{"t0": 0.6, "t1": 173, "v": 127}]}, "mark": {"type": "rule", "color": "black", "strokeWidth": 4.5, "strokeDash": [20, 7, 5, 7]},
   "encoding": {"x": {"field": "t0", "type": "quantitative", "axis": null}, "x2": {"field": "t1"}, "y": {"field": "v", "type": "quantitative", "axis": {"orient": "left", "title": "MAP", "titleFontSize": 58, "titlePadding": 100, "labels": false, "ticks": false, "domain": false}}}},
  {"data": {"values": [{"t": 78.8, "top": 192.4, "bot": 91.35}]}, "mark": {"type": "rule", "color": "black", "strokeWidth": 5, "strokeDash": [6, 4]},
   "encoding": {"x": {"field": "t", "type": "quantitative", "axis": null}, "y": {"field": "top", "type": "quantitative", "axis": null}, "y2": {"field": "bot"}}},
  {"data": {"values": [{"t": 109.7, "v0": 131.4, "v1": 167}]}, "mark": {"type": "rule", "color": "black", "strokeWidth": 3},
   "encoding": {"x": {"field": "t", "type": "quantitative", "axis": null}, "y": {"field": "v0", "type": "quantitative", "axis": null}, "y2": {"field": "v1"}}},
  {"data": {"values": [{"t": 109.7, "v": 167}]}, "mark": {"type": "point", "shape": "M-0.85,1L0,-1L0.85,1Z", "size": 200, "filled": true, "color": "black", "opacity": 1},
   "encoding": {"x": {"field": "t", "type": "quantitative", "axis": null}, "y": {"field": "v", "type": "quantitative", "axis": null}}}
 ]
},
{
 "width": 880, "height": 133,
 "resolve": {"axis": {"y": "independent"}},
 "layer": [
  {"data": {"name": "aHR"}, "mark": {"type": "line", "color": "black", "strokeWidth": 1.8},
   "encoding": {
    "x": {"field": "t", "type": "quantitative", "scale": {"domain": [0, 174.3], "nice": false, "zero": false}, "axis": {"labels": false, "ticks": false, "title": null, "domainColor": "#555", "domainWidth": 1.5}},
    "y": {"field": "v", "type": "quantitative", "scale": {"domain": [321.6, 531.6], "nice": false, "zero": false}, "axis": {"orient": "left", "values": [350, 400, 450, 500], "title": "(beats/min)", "titleFontSize": 32, "titlePadding": 2, "labelFontSize": 31, "labelPadding": 5, "labelOverlap": false, "ticks": false, "domainColor": "#555", "domainWidth": 1.5}}}},
  {"data": {"values": [{"t0": 0.4, "t1": 173, "v": 426}]}, "mark": {"type": "rule", "color": "black", "strokeWidth": 4.5, "strokeDash": [20, 7, 5, 7]},
   "encoding": {"x": {"field": "t0", "type": "quantitative", "axis": null}, "x2": {"field": "t1"}, "y": {"field": "v", "type": "quantitative", "axis": {"orient": "left", "title": "HR", "titleFontSize": 58, "titlePadding": 100, "labels": false, "ticks": false, "domain": false}}}},
  {"data": {"values": [{"t": 78.8, "top": 531.6, "bot": 321.6}]}, "mark": {"type": "rule", "color": "black", "strokeWidth": 5, "strokeDash": [6, 4]},
   "encoding": {"x": {"field": "t", "type": "quantitative", "axis": null}, "y": {"field": "top", "type": "quantitative", "axis": null}, "y2": {"field": "bot"}}},
  {"data": {"values": [{"t": 125.7, "v0": 426, "v1": 359.4}]}, "mark": {"type": "rule", "color": "black", "strokeWidth": 3},
   "encoding": {"x": {"field": "t", "type": "quantitative", "axis": null}, "y": {"field": "v0", "type": "quantitative", "axis": null}, "y2": {"field": "v1"}}},
  {"data": {"values": [{"t": 125.7, "v": 359.4}]}, "mark": {"type": "point", "shape": "M-0.85,-1L0,1L0.85,-1Z", "size": 200, "filled": true, "color": "black", "opacity": 1},
   "encoding": {"x": {"field": "t", "type": "quantitative", "axis": null}, "y": {"field": "v", "type": "quantitative", "axis": null}}},
  {"data": {"values": [{"t0": 152.9, "t1": 172.9, "v": 307.4}]}, "mark": {"type": "rule", "color": "black", "strokeWidth": 6},
   "encoding": {"x": {"field": "t0", "type": "quantitative", "axis": null}, "x2": {"field": "t1"}, "y": {"field": "v", "type": "quantitative", "axis": null}}},
  {"data": {"values": [{"t": 163.2, "v": 277.4, "s": "20s"}]}, "mark": {"type": "text", "font": "Liberation Serif", "fontSize": 28, "align": "center", "baseline": "middle", "color": "black"},
   "encoding": {"x": {"field": "t", "type": "quantitative", "axis": null}, "y": {"field": "v", "type": "quantitative", "axis": null}, "text": {"field": "s"}}}
 ]
},
{
 "width": 841, "height": 71,
 "layer": [
  {"data": {"values": [{"t": -47.4, "s": "b"}]}, "mark": {"type": "text", "font": "Liberation Sans", "fontWeight": "bold", "fontSize": 46, "align": "left", "baseline": "alphabetic", "dy": 31, "color": "black"},
   "encoding": {"x": {"field": "t", "type": "quantitative", "scale": {"domain": [0, 257.2], "nice": false, "zero": false}, "axis": null}, "text": {"field": "s"}}},
  {"data": {"values": [{"t": -31.5, "s": "Losartan"}]}, "mark": {"type": "text", "font": "Liberation Serif", "fontWeight": "bold", "fontSize": 37, "align": "left", "baseline": "alphabetic", "dy": 30, "color": "black"},
   "encoding": {"x": {"field": "t", "type": "quantitative", "axis": null}, "text": {"field": "s"}}},
  {"data": {"values": [{"t": 39.4, "s": "AngII"}]}, "mark": {"type": "text", "font": "Liberation Serif", "fontSize": 44, "align": "center", "baseline": "alphabetic", "dy": 26.5, "color": "black"},
   "encoding": {"x": {"field": "t", "type": "quantitative", "axis": null}, "text": {"field": "s"}}}
 ]
},
{
 "width": 841, "height": 181,
 "resolve": {"axis": {"y": "independent"}},
 "layer": [
  {"data": {"name": "bMAP"}, "mark": {"type": "line", "color": "black", "strokeWidth": 1.7},
   "encoding": {
    "x": {"field": "t", "type": "quantitative", "scale": {"domain": [0, 257.2], "nice": false, "zero": false}, "axis": {"labels": false, "ticks": false, "title": null, "domainColor": "#555", "domainWidth": 1.5}},
    "y": {"field": "v", "type": "quantitative", "scale": {"domain": [100, 190.5], "nice": false, "zero": false}, "axis": {"orient": "left", "values": [100, 120, 140, 160, 180], "title": "(mmHg)", "titleFontSize": 32, "titlePadding": 2, "labelFontSize": 31, "labelPadding": 5, "labelOverlap": false, "ticks": false, "domainColor": "#555", "domainWidth": 1.5}}}},
  {"data": {"values": [{"t0": 1.5, "t1": 264.5, "v": 121}]}, "mark": {"type": "rule", "color": "black", "strokeWidth": 4.5, "strokeDash": [20, 7, 5, 7]},
   "encoding": {"x": {"field": "t0", "type": "quantitative", "axis": null}, "x2": {"field": "t1"}, "y": {"field": "v", "type": "quantitative", "axis": {"orient": "left", "title": "MAP", "titleFontSize": 58, "titlePadding": 100, "labels": false, "ticks": false, "domain": false}}}},
  {"data": {"values": [{"t": 37.3, "top": 190.5, "bot": 92}]}, "mark": {"type": "rule", "color": "black", "strokeWidth": 5, "strokeDash": [6, 4]},
   "encoding": {"x": {"field": "t", "type": "quantitative", "axis": null}, "y": {"field": "top", "type": "quantitative", "axis": null}, "y2": {"field": "bot"}}}
 ]
},
{
 "width": 841, "height": 144,
 "resolve": {"axis": {"y": "independent"}},
 "layer": [
  {"data": {"name": "bHR"}, "mark": {"type": "line", "color": "black", "strokeWidth": 2},
   "encoding": {
    "x": {"field": "t", "type": "quantitative", "scale": {"domain": [0, 257.2], "nice": false, "zero": false}, "axis": {"labels": false, "ticks": false, "title": null, "domainColor": "#555", "domainWidth": 1.5}},
    "y": {"field": "v", "type": "quantitative", "scale": {"domain": [318.8, 532.7], "nice": false, "zero": false}, "axis": {"orient": "left", "values": [350, 400, 450, 500], "title": "(beats/min)", "titleFontSize": 32, "titlePadding": 2, "labelFontSize": 31, "labelPadding": 5, "labelOverlap": false, "ticks": false, "domainColor": "#555", "domainWidth": 1.5}}}},
  {"data": {"values": [{"t0": 1.5, "t1": 267.6, "v": 431.7}]}, "mark": {"type": "rule", "color": "black", "strokeWidth": 4.5, "strokeDash": [20, 7, 5, 7]},
   "encoding": {"x": {"field": "t0", "type": "quantitative", "axis": null}, "x2": {"field": "t1"}, "y": {"field": "v", "type": "quantitative", "axis": {"orient": "left", "title": "HR", "titleFontSize": 58, "titlePadding": 100, "labels": false, "ticks": false, "domain": false}}}},
  {"data": {"values": [{"t": 37.3, "top": 532.7, "bot": 318.8}]}, "mark": {"type": "rule", "color": "black", "strokeWidth": 5, "strokeDash": [6, 4]},
   "encoding": {"x": {"field": "t", "type": "quantitative", "axis": null}, "y": {"field": "top", "type": "quantitative", "axis": null}, "y2": {"field": "bot"}}},
  {"data": {"values": [{"t": 37.3, "v0": 318.8, "v1": 302.5}, {"t": 55.7, "v0": 318.8, "v1": 302.5}]}, "mark": {"type": "rule", "color": "#999", "strokeWidth": 1.5},
   "encoding": {"x": {"field": "t", "type": "quantitative", "axis": null}, "y": {"field": "v0", "type": "quantitative", "axis": null}, "y2": {"field": "v1"}}},
  {"data": {"values": [{"t0": 232.4, "t1": 262.4, "v": 301}]}, "mark": {"type": "rule", "color": "black", "strokeWidth": 6},
   "encoding": {"x": {"field": "t0", "type": "quantitative", "axis": null}, "x2": {"field": "t1"}, "y": {"field": "v", "type": "quantitative", "axis": null}}},
  {"data": {"values": [{"t": 246.2, "v": 269.8, "s": "30s"}]}, "mark": {"type": "text", "font": "Liberation Serif", "fontSize": 28, "align": "center", "baseline": "middle", "color": "black"},
   "encoding": {"x": {"field": "t", "type": "quantitative", "axis": null}, "y": {"field": "v", "type": "quantitative", "axis": null}, "text": {"field": "s"}}}
 ]
},
{
 "width": 880, "height": 42,
 "layer": [
  {"data": {"values": [{"t": -41.8, "s": "c"}]}, "mark": {"type": "text", "font": "Liberation Sans", "fontWeight": "bold", "fontSize": 46, "align": "left", "baseline": "alphabetic", "dy": 17, "color": "black"},
   "encoding": {"x": {"field": "t", "type": "quantitative", "scale": {"domain": [0, 253.6], "nice": false, "zero": false}, "axis": null}, "text": {"field": "s"}}},
  {"data": {"values": [{"t": -26.8, "s": "Losartan"}]}, "mark": {"type": "text", "font": "Liberation Serif", "fontWeight": "bold", "fontSize": 37, "align": "left", "baseline": "alphabetic", "dy": 16, "color": "black"},
   "encoding": {"x": {"field": "t", "type": "quantitative", "axis": null}, "text": {"field": "s"}}},
  {"data": {"values": [{"t": 112.7, "s": "AngII"}]}, "mark": {"type": "text", "font": "Liberation Serif", "fontSize": 44, "align": "center", "baseline": "alphabetic", "dy": 21, "color": "black"},
   "encoding": {"x": {"field": "t", "type": "quantitative", "axis": null}, "text": {"field": "s"}}}
 ]
},
{
 "width": 880, "height": 142,
 "resolve": {"axis": {"y": "independent"}},
 "layer": [
  {"data": {"name": "cMAP"}, "mark": {"type": "line", "color": "black", "strokeWidth": 1.5},
   "encoding": {
    "x": {"field": "t", "type": "quantitative", "scale": {"domain": [0, 253.6], "nice": false, "zero": false}, "axis": {"labels": false, "ticks": false, "title": null, "domainColor": "#555", "domainWidth": 1.5}},
    "y": {"field": "v", "type": "quantitative", "scale": {"domain": [28.6, 124.9], "nice": false, "zero": false}, "axis": {"orient": "left", "values": [30, 50, 70, 90, 110], "title": "(mmHg)", "titleFontSize": 32, "titlePadding": 2, "labelFontSize": 28, "labelPadding": 5, "labelOverlap": false, "ticks": false, "domainColor": "#555", "domainWidth": 1.5}}}},
  {"data": {"values": [{"t0": 0.9, "t1": 253.6, "v": 75.4}]}, "mark": {"type": "rule", "color": "black", "strokeWidth": 4.5, "strokeDash": [20, 7, 5, 7]},
   "encoding": {"x": {"field": "t0", "type": "quantitative", "axis": null}, "x2": {"field": "t1"}, "y": {"field": "v", "type": "quantitative", "axis": {"orient": "left", "title": "MAP", "titleFontSize": 58, "titlePadding": 100, "labels": false, "ticks": false, "domain": false}}}},
  {"data": {"values": [{"t": 111.5, "top": 135, "bot": 17.8}]}, "mark": {"type": "rule", "color": "black", "strokeWidth": 5, "strokeDash": [6, 4]},
   "encoding": {"x": {"field": "t", "type": "quantitative", "axis": null}, "y": {"field": "top", "type": "quantitative", "axis": null}, "y2": {"field": "bot"}}}
 ]
},
{
 "width": 880, "height": 173,
 "resolve": {"axis": {"y": "independent"}},
 "layer": [
  {"data": {"name": "cHR"}, "mark": {"type": "line", "color": "black", "strokeWidth": 1.6},
   "encoding": {
    "x": {"field": "t", "type": "quantitative", "scale": {"domain": [0, 253.6], "nice": false, "zero": false}, "axis": {"labels": false, "ticks": false, "title": null, "domainColor": "#555", "domainWidth": 1.5}},
    "y": {"field": "v", "type": "quantitative", "scale": {"domain": [288.7, 567.7], "nice": false, "zero": false}, "axis": {"orient": "left", "values": [300, 350, 400, 450, 500], "title": "(beats/min)", "titleFontSize": 32, "titlePadding": 2, "labelFontSize": 30, "labelPadding": 5, "labelOverlap": false, "ticks": false, "domainColor": "#555", "domainWidth": 1.5}}}},
  {"data": {"values": [{"t0": 0.9, "t1": 253.6, "v": 433.9}]}, "mark": {"type": "rule", "color": "black", "strokeWidth": 4.5, "strokeDash": [20, 7, 5, 7]},
   "encoding": {"x": {"field": "t0", "type": "quantitative", "axis": null}, "x2": {"field": "t1"}, "y": {"field": "v", "type": "quantitative", "axis": {"orient": "left", "title": "HR", "titleFontSize": 58, "titlePadding": 100, "labels": false, "ticks": false, "domain": false}}}},
  {"data": {"values": [{"t": 111.5, "top": 567.7, "bot": 285}]}, "mark": {"type": "rule", "color": "black", "strokeWidth": 5, "strokeDash": [6, 4]},
   "encoding": {"x": {"field": "t", "type": "quantitative", "axis": null}, "y": {"field": "top", "type": "quantitative", "axis": null}, "y2": {"field": "bot"}}},
  {"data": {"values": [{"t0": 223.6, "t1": 253.6, "v": 271}]}, "mark": {"type": "rule", "color": "black", "strokeWidth": 6},
   "encoding": {"x": {"field": "t0", "type": "quantitative", "axis": null}, "x2": {"field": "t1"}, "y": {"field": "v", "type": "quantitative", "axis": null}}},
  {"data": {"values": [{"t": 239.8, "v": 230.6, "s": "30s"}]}, "mark": {"type": "text", "font": "Liberation Serif", "fontSize": 28, "align": "center", "baseline": "middle", "color": "black"},
   "encoding": {"x": {"field": "t", "type": "quantitative", "axis": null}, "y": {"field": "v", "type": "quantitative", "axis": null}, "text": {"field": "s"}}}
 ]
}
]
}
